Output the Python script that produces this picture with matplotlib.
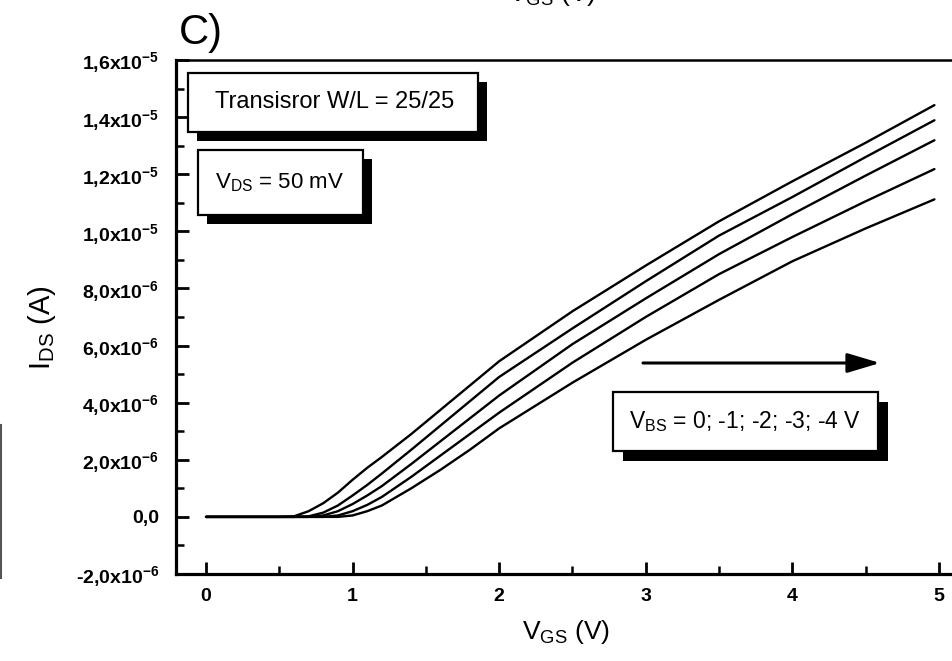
import numpy as np
import matplotlib
matplotlib.use("Agg")
import matplotlib.pyplot as plt
from matplotlib.patches import Rectangle
from matplotlib.ticker import FixedLocator, FuncFormatter

plt.rcParams['font.family'] = ['Liberation Sans', 'DejaVu Sans']
plt.rcParams['mathtext.fontset'] = 'custom'
plt.rcParams['mathtext.default'] = 'regular'

# ---- data (I_DS in units of 1e-6 A) ----
vgs = [0, 0.5, 0.6, 0.7, 0.8, 0.9, 1.0, 1.1, 1.2, 1.4, 1.6, 1.8, 2.0, 2.5, 3.0, 3.5, 4.0, 4.5, 4.97]
ids_vbs0 = [0, 0, 0.02, 0.2, 0.48, 0.85, 1.3, 1.72, 2.1, 2.9, 3.75, 4.6, 5.45, 7.2, 8.8, 10.35, 11.75, 13.1, 14.42]
ids_vbs1 = [0, 0, 0, 0.02, 0.15, 0.4, 0.75, 1.12, 1.52, 2.35, 3.2, 4.05, 4.9, 6.6, 8.25, 9.85, 11.2, 12.6, 13.89]
ids_vbs2 = [0, 0, 0, 0, 0.05, 0.2, 0.45, 0.75, 1.08, 1.85, 2.65, 3.45, 4.25, 6.05, 7.65, 9.2, 10.6, 11.95, 13.19]
ids_vbs3 = [0, 0, 0, 0, 0, 0.05, 0.2, 0.42, 0.7, 1.4, 2.15, 2.9, 3.65, 5.4, 7.0, 8.5, 9.8, 11.05, 12.18]
ids_vbs4 = [0, 0, 0, 0, 0, 0, 0.05, 0.2, 0.4, 1.0, 1.65, 2.35, 3.1, 4.7, 6.2, 7.6, 8.95, 10.1, 11.12]
series = [ids_vbs0, ids_vbs1, ids_vbs2, ids_vbs3, ids_vbs4]

x_ticks = [0, 1, 2, 3, 4, 5]
y_ticks = [-2e-6, 0, 2e-6, 4e-6, 6e-6, 8e-6, 1.0e-5, 1.2e-5, 1.4e-5, 1.6e-5]

W, H = 952, 661
fig = plt.figure(figsize=(W / 100, H / 100), dpi=100)

def fx(px):
    return px / W

def fy(py):
    return 1 - py / H

ax = fig.add_axes([fx(176), fy(574), fx(952) - fx(176), fy(60) - fy(574)])
for s in series:
    ax.plot(vgs, np.array(s) * 1e-6, color='black', lw=1.7, solid_capstyle='round')

ax.set_xlim(-0.205, 5.09)
ax.set_ylim(-2e-6, 1.6e-5)

ax.spines['right'].set_visible(False)
ax.spines['left'].set_linewidth(2.3)
ax.spines['bottom'].set_linewidth(2.3)
ax.spines['top'].set_linewidth(1.8)

ax.xaxis.set_major_locator(FixedLocator(x_ticks))
ax.xaxis.set_minor_locator(FixedLocator([0.5, 1.5, 2.5, 3.5, 4.5]))
ax.yaxis.set_major_locator(FixedLocator(y_ticks))
ax.yaxis.set_minor_locator(FixedLocator([-1e-6, 1e-6, 3e-6, 5e-6, 7e-6, 9e-6, 1.1e-5, 1.3e-5, 1.5e-5]))

def yfmt(v, pos):
    if abs(v) < 1e-12:
        return '0,0'
    e = int(np.floor(np.log10(abs(v)) + 1e-9))
    m = v / 10 ** e
    s = f"{m:.1f}".replace('.', ',')
    return s + 'x10$^{' + str(e) + '}$'

ax.yaxis.set_major_formatter(FuncFormatter(yfmt))
ax.xaxis.set_major_formatter(FuncFormatter(lambda v, p: f"{int(round(v))}"))

ax.tick_params(axis='both', which='major', direction='in', length=9, width=2.0,
               labelsize=14)
ax.tick_params(axis='both', which='minor', direction='in', length=5.5, width=1.8)
ax.tick_params(axis='x', which='major', pad=10, top=False)
ax.tick_params(axis='y', which='major', pad=12, right=False)
ax.tick_params(axis='x', which='minor', top=False)
ax.tick_params(axis='y', which='minor', right=False)
for lab in ax.get_xticklabels() + ax.get_yticklabels():
    lab.set_fontweight('bold')

# ---- axis titles ----
fig.text(fx(566), fy(632), 'V$_{GS}$ (V)', ha='center', va='center', fontsize=19)
fig.text(fx(42), fy(328), 'I$_{DS}$ (A)', ha='center', va='center', fontsize=21, rotation=90)
fig.text(fx(201), fy(33), 'C)', ha='center', va='center', fontsize=30)
# cut-off label of the panel above
fig.text(fx(552), fy(-6), 'V$_{GS}$ (V)', ha='center', va='center', fontsize=19)

# ---- framed boxes with shadow ----
def shadow_box(x0, y0, x1, y1, off, text, tx, fs):
    fig.patches.append(Rectangle((fx(x0 + off), fy(y1 + off)), fx(x1) - fx(x0), fy(y0) - fy(y1),
                                 transform=fig.transFigure, facecolor='black', edgecolor='none', zorder=5))
    fig.patches.append(Rectangle((fx(x0), fy(y1)), fx(x1) - fx(x0), fy(y0) - fy(y1),
                                 transform=fig.transFigure, facecolor='white', edgecolor='black',
                                 lw=1.6, zorder=6))
    fig.text(fx(tx), fy((y0 + y1) / 2), text, ha='center', va='center', fontsize=fs, zorder=7)

shadow_box(188, 73, 478, 132, 9, 'Transisror W/L = 25/25', 335, 17)
shadow_box(198, 150, 363, 215, 9, 'V$_{DS}$ = 50 mV', 279, 16)
shadow_box(613, 392, 878, 451, 10, 'V$_{BS}$ = 0; -1; -2; -3; -4 V', 745, 16.5)

# ---- arrow ----
ax.annotate('', xy=(fx(880), fy(363)), xytext=(fx(643), fy(363)),
            xycoords='figure fraction', textcoords='figure fraction',
            arrowprops=dict(arrowstyle='-|>,head_length=1.0,head_width=0.3',
                            mutation_scale=20, lw=2.2, color='black',
                            shrinkA=0, shrinkB=0))

# scan artefact along the left edge
fig.add_artist(plt.Line2D([fx(1), fx(1)], [fy(578), fy(425)], transform=fig.transFigure,
                          color='#555555', lw=1.5))

fig.savefig('out.png', dpi=100)
